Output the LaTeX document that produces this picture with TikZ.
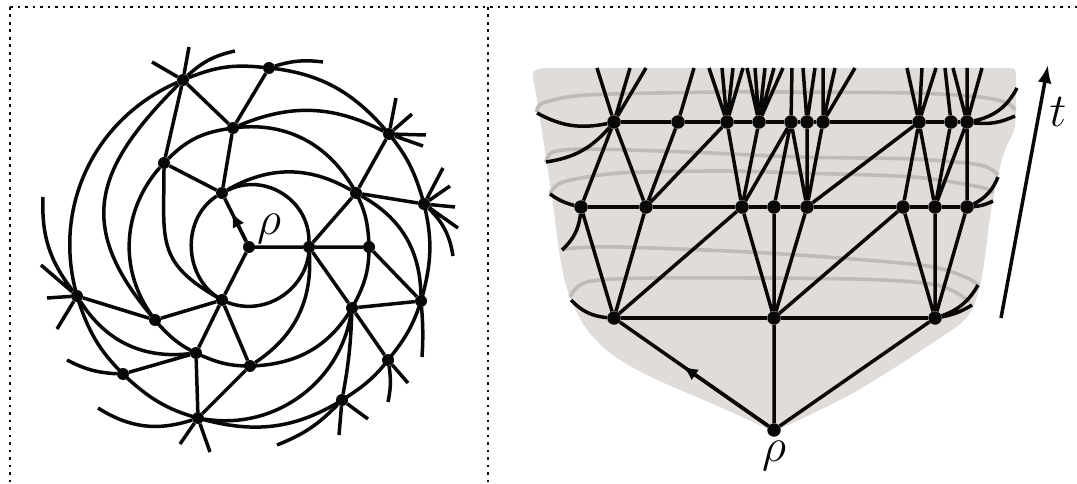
\documentclass[tikz,border=0pt]{standalone}
\usepackage{xcolor}
\usepackage{tikz}
\usetikzlibrary{arrows.meta}
\definecolor{inkblack}{HTML}{0A0807}
\definecolor{sheetgrey}{HTML}{DFDCDA}
\definecolor{ringgrey}{HTML}{BFBBB7}

\begin{document}
\begin{tikzpicture}[
  x=1pt, y=-1pt,
  vertex/.style={circle, fill=inkblack, inner sep=0pt, minimum size=12pt},
  bigvertex/.style={vertex, minimum size=13.5pt},
  mesh/.style={draw=inkblack, line width=3.5pt},
  ring/.style={draw=ringgrey, line width=3.6pt},
  frameline/.style={draw=inkblack, line width=2.6pt, dash pattern=on 2.6pt off 4.9pt},
  glyph/.style={text=inkblack, font=\Huge, scale=1.9, inner sep=0pt},
  >={Latex[length=15pt, width=13pt]},
]
\useasboundingbox (0,0) rectangle (1077,484);

% dotted frame
\draw[frameline] (10,7) -- (1077,7);
\draw[frameline] (10,7) -- (10,484);
\draw[frameline] (488,7) -- (488,484);

% grey sheet and its rings
\fill[sheetgrey] (533,80) .. controls (533,70) .. (543,68) -- (1004,68) .. controls (1016,68) .. (1016,80)
  -- plot[smooth, tension=0.6] coordinates {(1016,110) (1014,130) (1005,150) (997,180) (990,217) (985,257) (979,290) (967,317) (937,340) (853,393) (777,430)}
  -- plot[smooth, tension=0.6] coordinates {(770,430) (720,407) (637,370) (593,337) (570,297) (560,257) (552,197) (537,100) (533,80)};
\draw[ring] plot[smooth] coordinates {(537,112) (543,103) (587,95) (720,92) (780,92) (913,93) (980,97) (1007,103) (1015,110)};
\draw[ring] plot[smooth] coordinates {(546,162) (553,152) (587,149) (687,152) (800,157) (913,159) (980,165) (998,175)};
\draw[ring] plot[smooth] coordinates {(550,194) (563,182) (620,173) (720,171) (800,173) (913,177) (980,187) (993,193)};
\draw[ring] plot[smooth] coordinates {(562,250) (575,248) (620,247) (767,253) (920,265) (965,277) (978,285)};
\draw[ring] plot[smooth] coordinates {(570,297) (587,282) (653,278) (853,279) (937,285) (970,302)};

% disc: vertices by level
\node[vertex] (rhoL) at (249,247) {};
\node[vertex] (na) at (222,193) {};
\node[vertex] (nb) at (309,247) {};
\node[vertex] (nc) at (222,300) {};
\node[vertex] (ma) at (164,163) {};
\node[vertex] (mb) at (233,128) {};
\node[vertex] (mc) at (356,193) {};
\node[vertex] (md) at (369,247) {};
\node[vertex] (me) at (352,308) {};
\node[vertex] (mf) at (250,366) {};
\node[vertex] (mg) at (196,353) {};
\node[vertex] (mh) at (155,320) {};
\node[vertex] (oa) at (183,80) {};
\node[vertex] (ob) at (269,68) {};
\node[vertex] (oc) at (389,134) {};
\node[vertex] (od) at (424,204) {};
\node[vertex] (oe) at (421,301) {};
\node[vertex] (of) at (388,360) {};
\node[vertex] (og) at (342,400) {};
\node[vertex] (oh) at (198,418) {};
\node[vertex] (oi) at (123,374) {};
\node[vertex] (oj) at (77,296) {};

% disc: free ends
\coordinate (oa1) at (189,47); \coordinate (oa2) at (152,62); \coordinate (oa3) at (235,51);
\coordinate (ob1) at (323,62);
\coordinate (oc1) at (396,98); \coordinate (oc2) at (412,114); \coordinate (oc3) at (426,135); \coordinate (oc4) at (423,146);
\coordinate (od1) at (443,168); \coordinate (od2) at (450,186); \coordinate (od3) at (455,207); \coordinate (od4) at (458,228); \coordinate (od5) at (453,256);
\coordinate (oe1) at (422,357);
\coordinate (of1) at (408,383); \coordinate (of2) at (388,402);
\coordinate (og1) at (368,419); \coordinate (og2) at (339,435); \coordinate (og3) at (277,445);
\coordinate (oh1) at (180,444); \coordinate (oh2) at (210,452); \coordinate (oh3) at (98,408);
\coordinate (oi1) at (67,360);
\coordinate (oj1) at (41,265); \coordinate (oj2) at (47,298); \coordinate (oj3) at (57,329); \coordinate (oj4) at (43,197);

% disc: level curves
\draw[mesh] (na) to[bend left=58, looseness=1.1] (nb) to[bend left=58, looseness=1.1] (nc) to[bend left=63, looseness=1.1] (na);
\draw[mesh] (ma) to[bend left=18] (mb) to[bend left=35] (mc) to[bend left=13] (md) to[bend left=15] (me)
  to[bend left=29] (mf) to[bend left=13] (mg) to[bend left=12] (mh) to[bend left=41] (ma);
\draw[mesh] (oa) to[bend left=14] (ob) to[bend left=22] (oc) to[bend left=12] (od) to[bend left=15] (oe)
  to[bend left=11] (of) to[bend left=10] (og) to[bend left=24] (oh) to[bend left=14] (oi)
  to[bend left=14] (oj) to[bend left=42] (oa);

% disc: spokes
\path (rhoL) -- (na) coordinate[pos=.68] (tipL);
\draw[mesh] (rhoL) -- (na) (rhoL) -- (nb) (rhoL) -- (nc);
\draw[mesh, ->] (rhoL) -- (tipL);
\draw[mesh] (na) -- (ma) (na) -- (mb) (nb) -- (md) (nb) -- (mc) (nb) -- (me) (nc) -- (mh) (nc) -- (mg) (nc) -- (mf);
\draw[mesh] (na) to[bend left=30] (mc) (nb) to[bend left=30] (mf) (nc) to[out=150, in=270, looseness=1.3] (ma);
\draw[mesh] (ma) -- (oa) (mb) -- (oa) (mb) -- (ob) (mc) -- (oc) (mc) -- (od) (md) -- (oe) (me) -- (oe) (me) -- (of)
  (mf) -- (oh) (mg) -- (oh) (mg) -- (oi) (mh) -- (oj);
\draw[mesh] (mb) to[bend left=25] (oc) (mc) to[bend left=30] (oe) (me) to[bend left=4] (og) (me) to[bend left=45] (oh)
  (mg) to[bend left=32] (oj) (mh) to[out=130, in=225, looseness=1.3] (oa);

% disc: stubs
\draw[mesh] (oa) -- (oa1) (oa) -- (oa2) (oa) to[bend left=15] (oa3) (ob) to[bend left=12] (ob1);
\draw[mesh] (oc) -- (oc1) (oc) -- (oc2) (oc) -- (oc3) (oc) -- (oc4);
\draw[mesh] (od) -- (od1) (od) -- (od2) (od) -- (od3) (od) -- (od4) (od) to[bend left=18] (od5);
\draw[mesh] (oe) to[bend left=4] (oe1) (of) -- (of1) (of) to[bend left=10] (of2);
\draw[mesh] (og) -- (og1) (og) -- (og2) (og) to[bend left=12] (og3);
\draw[mesh] (oh) -- (oh1) (oh) -- (oh2) (oh) to[bend left=25] (oh3) (oi) to[bend left=12] (oi1);
\draw[mesh] (oj) -- (oj1) (oj) -- (oj2) (oj) -- (oj3) (oj) to[bend left=20] (oj4);

\node[glyph] (rhoLlabel) at (269,229) {$\rho$};

% sheet: vertices by row
\node[bigvertex] (rhoR) at (774,430) {};
\node[bigvertex] (ra) at (614,318) {};
\node[bigvertex] (rb) at (774,318) {};
\node[bigvertex] (rc) at (935,318) {};
\node[bigvertex] (sa) at (581,207) {};
\node[bigvertex] (sb) at (646,207) {};
\node[bigvertex] (sc) at (742,207) {};
\node[bigvertex] (sd) at (774,207) {};
\node[bigvertex] (se) at (807,207) {};
\node[bigvertex] (sf) at (903,207) {};
\node[bigvertex] (sg) at (935,207) {};
\node[bigvertex] (sh) at (967,207) {};
\node[bigvertex] (ta) at (614,122) {};
\node[bigvertex] (tb) at (678,122) {};
\node[bigvertex] (tc) at (727,122) {};
\node[bigvertex] (td) at (759,122) {};
\node[bigvertex] (te) at (791,122) {};
\node[bigvertex] (tf) at (807,122) {};
\node[bigvertex] (tg) at (823,122) {};
\node[bigvertex] (th) at (919,122) {};
\node[bigvertex] (ti) at (951,122) {};
\node[bigvertex] (tj) at (967,122) {};

% sheet: free ends
\coordinate (ta1) at (597,68); \coordinate (ta2) at (630,68); \coordinate (ta3) at (646,68);
\coordinate (tb1) at (694,68);
\coordinate (tc1) at (709,68); \coordinate (tc2) at (722,68); \coordinate (tc3) at (733,68); \coordinate (tc4) at (743,68);
\coordinate (td1) at (747,68); \coordinate (td2) at (755,68); \coordinate (td3) at (765,68); \coordinate (td4) at (774,68); \coordinate (td5) at (783,68);
\coordinate (te1) at (792,68);
\coordinate (tf1) at (803,68); \coordinate (tf2) at (815,68);
\coordinate (tg1) at (823,68); \coordinate (tg2) at (835,68); \coordinate (tg3) at (855,68);
\coordinate (th1) at (907,68); \coordinate (th2) at (922,68); \coordinate (th3) at (936,68);
\coordinate (ti1) at (945,68);
\coordinate (tj1) at (953,68); \coordinate (tj2) at (967,68); \coordinate (tj3) at (982,68);
\coordinate (ta4) at (537,113); \coordinate (ta5) at (546,162);
\coordinate (tj4) at (1015,116); \coordinate (tj5) at (1017,88);
\coordinate (sa1) at (550,194); \coordinate (sa2) at (562,250);
\coordinate (sh1) at (993,201); \coordinate (sh2) at (998,177);
\coordinate (ra1) at (571,300);
\coordinate (rc1) at (972,305); \coordinate (rc2) at (978,285);

% sheet: rows
\draw[mesh] (ra) -- (rb) -- (rc);
\draw[mesh] (sa) -- (sb) -- (sc) -- (sd) -- (se) -- (sf) -- (sg) -- (sh);
\draw[mesh] (ta) -- (tb) -- (tc) -- (td) -- (te) -- (tf) -- (tg) -- (th) -- (ti) -- (tj);

% sheet: rises
\path (rhoR) -- (ra) coordinate[pos=.575] (tipR);
\draw[mesh] (rhoR) -- (ra) (rhoR) -- (rb) (rhoR) -- (rc);
\draw[mesh, ->] (rhoR) -- (tipR);
\draw[mesh] (ra) -- (sa) (ra) -- (sb) (ra) -- (sc) (rb) -- (sc) (rb) -- (sd) (rb) -- (se) (rb) -- (sf)
  (rc) -- (sf) (rc) -- (sg) (rc) -- (sh);
\draw[mesh] (sa) -- (ta) (sb) -- (ta) (sb) -- (tb) (sb) -- (tc) (sc) -- (tc) (sc) -- (td) (sc) -- (te)
  (sd) -- (te) (se) -- (te) (se) -- (tf) (se) -- (tg) (se) -- (th) (sf) -- (th) (sg) -- (th) (sg) -- (ti)
  (sg) -- (tj) (sh) -- (tj);

% sheet: stubs
\draw[mesh] (ta) -- (ta1) (ta) -- (ta2) (ta) -- (ta3) (tb) -- (tb1);
\draw[mesh] (tc) -- (tc1) (tc) -- (tc2) (tc) -- (tc3) (tc) -- (tc4);
\draw[mesh] (td) -- (td1) (td) -- (td2) (td) -- (td3) (td) -- (td4) (td) -- (td5);
\draw[mesh] (te) -- (te1) (tf) -- (tf1) (tf) -- (tf2) (tg) -- (tg1) (tg) -- (tg2) (tg) -- (tg3);
\draw[mesh] (th) -- (th1) (th) -- (th2) (th) -- (th3) (ti) -- (ti1);
\draw[mesh] (tj) -- (tj1) (tj) -- (tj2) (tj) -- (tj3);
\draw[mesh] (ta) to[bend left=20] (ta4) (ta) to[bend left=20] (ta5);
\draw[mesh] (tj) to[bend right=15] (tj4) (tj) to[bend right=25] (tj5);
\draw[mesh] (sa) to[bend left=10] (sa1) (sa) to[bend left=20] (sa2);
\draw[mesh] (sh) to[bend right=10] (sh1) (sh) to[bend right=20] (sh2);
\draw[mesh] (ra) to[bend left=20] (ra1);
\draw[mesh] (rc) to[bend right=10] (rc1) (rc) to[bend right=20] (rc2);

\node[glyph] (rhoRlabel) at (774,456) {$\rho$};

% time arrow
\coordinate (tfoot) at (1001,318);
\coordinate (thead) at (1048,65);
\draw[mesh, -{Latex[length=18pt, width=14pt]}] (tfoot) -- (thead);
\node[glyph] (tlabel) at (1058,112) {$t$};
\end{tikzpicture}
\end{document}
